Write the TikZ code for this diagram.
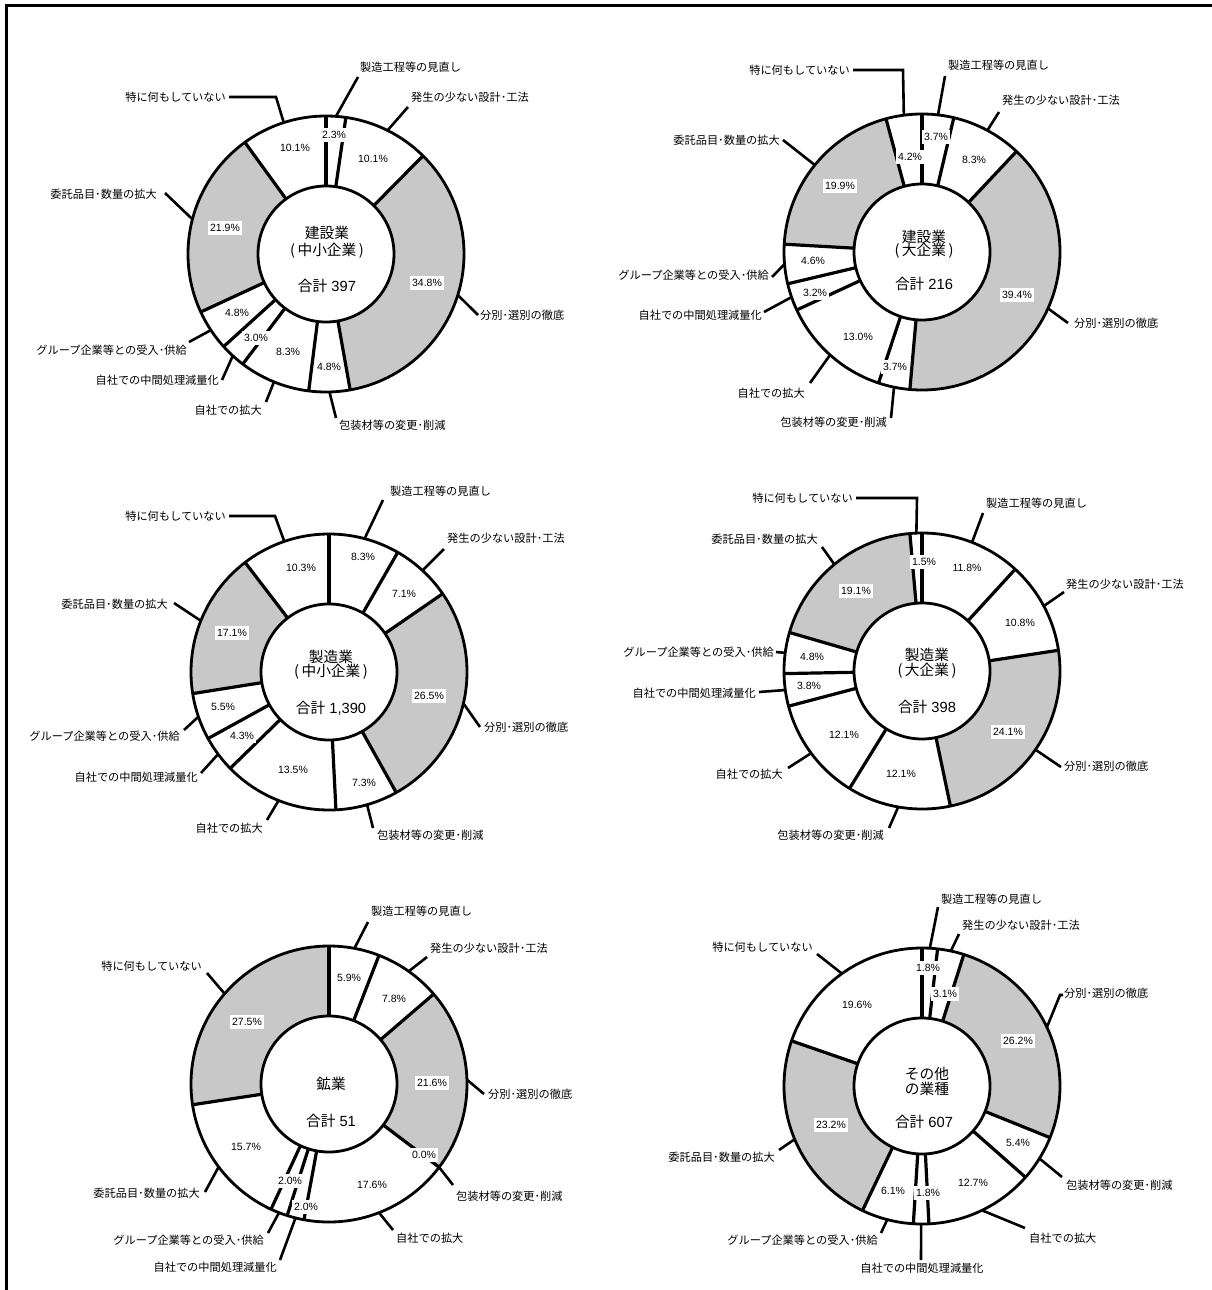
\documentclass[tikz,border=0pt]{standalone}
\usepackage{fontspec}
\setmainfont{Liberation Sans}
\newfontfamily\jp{Noto Sans CJK JP}
\usetikzlibrary{calc}
\definecolor{ringgray}{RGB}{200,200,200}
\tikzset{
  ringline/.style={line width=2.8pt},
  sepline/.style={line width=3.2pt},
  leader/.style={line width=2.6pt},
  pct/.style={fill=white, inner xsep=2pt, inner ysep=3pt, text height=7.6pt, text depth=0.4pt, font=\fontsize{10.5}{12}\selectfont},
  lab/.style={inner sep=0pt, font=\jp\fontsize{11.2}{13}\selectfont},
  ctitle/.style={inner sep=0pt, font=\jp\fontsize{14.7}{16}\selectfont},
  csum/.style={inner sep=0pt, font=\fontsize{14.7}{16}\selectfont},
}
\newcommand\graysec[3]{\fill[ringgray] ($(#1)+(#2:138)$) arc[start angle=#2,end angle=#3,radius=138] -- ($(#1)+(#3:68)$) arc[start angle=#3,end angle=#2,radius=68] -- cycle;}
\newcommand\ringbase[2]{%
  \draw[ringline] (#1) circle[radius=138];
  \foreach \a in {#2} \draw[sepline] ($(#1)+(\a:68)$) -- ($(#1)+(\a:138)$);
  \draw[ringline,fill=white] (#1) circle[radius=68];}
\newcommand\leadline[3]{\draw[leader] ($(#1)+(#2:138)$) -- #3;}
\begin{document}
\begin{tikzpicture}[x=1pt,y=-1pt]
\useasboundingbox (0,0) rectangle (1212,1290);
\draw[line width=2.8pt] (6.5,1292) -- (6.5,5.3) -- (1214,5.3);

% ---------- Chart 1 ----------
\coordinate (c1) at (326,254);
\graysec{c1}{-45.36}{79.92}
\graysec{c1}{155.16}{234}
\ringbase{c1}{-90,-81.72,-45.36,79.92,97.2,127.08,137.88,155.16,234}
\leadline{c1}{-85.86}{(358,77)}
\leadline{c1}{-63.54}{(408,107)}
\leadline{c1}{17.28}{(478,315)}
\leadline{c1}{88.56}{(336,418)}
\leadline{c1}{112.14}{(266,402)}
\leadline{c1}{132.48}{(222,380)}
\leadline{c1}{146.52}{(189,342)}
\leadline{c1}{194.58}{(165,193)}
\leadline{c1}{252.18}{(276,97) -- (229,97)}
\node[lab,anchor=west] (l1a) at (360,67) {製造工程等の見直し};
\node[lab,anchor=west] (l1b) at (411,97) {発生の少ない設計･工法};
\node[lab,anchor=west] (l1c) at (480,315) {分別･選別の徹底};
\node[lab,anchor=west] (l1d) at (339,425) {包装材等の変更･削減};
\node[lab,anchor=east] (l1e) at (262,410) {自社での拡大};
\node[lab,anchor=east] (l1f) at (219,380) {自社での中間処理減量化};
\node[lab,anchor=east] (l1g) at (187,350) {グループ企業等との受入･供給};
\node[lab,anchor=east] (l1h) at (157,194) {委託品目･数量の拡大};
\node[lab,anchor=east] (l1i) at (226,97) {特に何もしていない};
\node[pct] (p1a) at (334,135) {2.3\%};
\node[pct] (p1b) at (373,159) {10.1\%};
\node[pct] (p1c) at (427,283) {34.8\%};
\node[pct] (p1d) at (329,367) {4.8\%};
\node[pct] (p1e) at (288,352) {8.3\%};
\node[pct] (p1f) at (256,338) {3.0\%};
\node[pct] (p1g) at (237,313) {4.8\%};
\node[pct] (p1h) at (225,228) {21.9\%};
\node[pct] (p1i) at (295,148) {10.1\%};
\node[ctitle] (t1a) at (327,233) {建設業};
\node[ctitle] (t1b) at (327,251) {(\,中小企業\,)};
\node[csum] (s1) at (327,286) {{\jp 合計} 397};

% ---------- Chart 2 ----------
\coordinate (c2) at (922,252);
\graysec{c2}{-46.8}{95.04}
\graysec{c2}{183.24}{254.88}
\ringbase{c2}{-90,-76.68,-46.8,95.04,108.36,155.16,166.68,183.24,254.88}
\leadline{c2}{-83.34}{(945,76)}
\leadline{c2}{-61.74}{(999,112)}
\leadline{c2}{24.12}{(1068,323)}
\leadline{c2}{101.7}{(891,418)}
\leadline{c2}{131.76}{(810,383)}
\leadline{c2}{160.92}{(764,312)}
\leadline{c2}{174.96}{(772,277)}
\leadline{c2}{219.06}{(783,140)}
\leadline{c2}{262.44}{(903,70) -- (853,70)}
\node[lab,anchor=west] (l2a) at (948,65) {製造工程等の見直し};
\node[lab,anchor=west] (l2b) at (1002,100) {発生の少ない設計･工法};
\node[lab,anchor=west] (l2c) at (1074,323) {分別･選別の徹底};
\node[lab,anchor=east] (l2d) at (887,422) {包装材等の変更･削減};
\node[lab,anchor=east] (l2e) at (805,393) {自社での拡大};
\node[lab,anchor=east] (l2f) at (762,315) {自社での中間処理減量化};
\node[lab,anchor=east] (l2g) at (769,275) {グループ企業等との受入･供給};
\node[lab,anchor=east] (l2h) at (780,140) {委託品目･数量の拡大};
\node[lab,anchor=east] (l2i) at (850,70) {特に何もしていない};
\node[pct] (p2a) at (936,137) {3.7\%};
\node[pct] (p2b) at (974,160) {8.3\%};
\node[pct] (p2c) at (1017,295) {39.4\%};
\node[pct] (p2d) at (895,367) {3.7\%};
\node[pct] (p2e) at (858,337) {13.0\%};
\node[pct] (p2f) at (815,293) {3.2\%};
\node[pct] (p2g) at (813,261) {4.6\%};
\node[pct] (p2h) at (840,186) {19.9\%};
\node[pct] (p2i) at (910,157) {4.2\%};
\node[ctitle] (t2a) at (924,237) {建設業};
\node[ctitle] (t2b) at (924,251) {(\,大企業\,)};
\node[csum] (s2) at (924,284) {{\jp 合計} 216};

% ---------- Chart 3 ----------
\coordinate (c3) at (329,672);
\graysec{c3}{-34.56}{60.84}
\graysec{c3}{171}{232.56}
\ringbase{c3}{-90,-60.12,-34.56,60.84,87.12,135.72,151.2,171,232.56}
\leadline{c3}{-75.06}{(383,500)}
\leadline{c3}{-47.34}{(444,549)}
\leadline{c3}{13.14}{(480,727)}
\leadline{c3}{73.98}{(373,828)}
\leadline{c3}{111.42}{(267,820)}
\leadline{c3}{143.46}{(201,773)}
\leadline{c3}{161.1}{(184,730)}
\leadline{c3}{201.78}{(174,603)}
\leadline{c3}{251.1}{(275,516) -- (229,516)}
\node[lab,anchor=west] (l3a) at (390,491) {製造工程等の見直し};
\node[lab,anchor=west] (l3b) at (447,538) {発生の少ない設計･工法};
\node[lab,anchor=west] (l3c) at (484,727) {分別･選別の徹底};
\node[lab,anchor=west] (l3d) at (377,835) {包装材等の変更･削減};
\node[lab,anchor=east] (l3e) at (263,828) {自社での拡大};
\node[lab,anchor=east] (l3f) at (198,777) {自社での中間処理減量化};
\node[lab,anchor=east] (l3g) at (180,736) {グループ企業等との受入･供給};
\node[lab,anchor=east] (l3h) at (168,604) {委託品目･数量の拡大};
\node[lab,anchor=east] (l3i) at (226,516) {特に何もしていない};
\node[pct] (p3a) at (363,557) {8.3\%};
\node[pct] (p3b) at (404,594) {7.1\%};
\node[pct] (p3c) at (429,696) {26.5\%};
\node[pct] (p3d) at (364,783) {7.3\%};
\node[pct] (p3e) at (293,770) {13.5\%};
\node[pct] (p3f) at (242,736) {4.3\%};
\node[pct] (p3g) at (223,707) {5.5\%};
\node[pct] (p3h) at (232,633) {17.1\%};
\node[pct] (p3i) at (301,568) {10.3\%};
\node[ctitle] (t3a) at (331,657) {製造業};
\node[ctitle] (t3b) at (331,672) {(\,中小企業\,)};
\node[csum] (s3) at (331,708) {{\jp 合計} 1,390};

% ---------- Chart 4 ----------
\coordinate (c4) at (922,671);
\graysec{c4}{-8.64}{78.12}
\graysec{c4}{196.2}{264.96}
\ringbase{c4}{-90,-47.52,-8.64,78.12,121.68,165.24,178.92,196.2,264.96}
\leadline{c4}{-68.76}{(983,513)}
\leadline{c4}{-28.08}{(1064,592)}
\leadline{c4}{34.74}{(1061,767)}
\leadline{c4}{99.9}{(889,828)}
\leadline{c4}{143.46}{(788,768)}
\leadline{c4}{172.08}{(759,692)}
\leadline{c4}{187.56}{(776,652)}
\leadline{c4}{230.58}{(822,547)}
\leadline{c4}{267.66}{(917,498) -- (856,498)}
\node[lab,anchor=west] (l4a) at (986,503) {製造工程等の見直し};
\node[lab,anchor=west] (l4b) at (1066,584) {発生の少ない設計･工法};
\node[lab,anchor=west] (l4c) at (1064,766) {分別･選別の徹底};
\node[lab,anchor=east] (l4d) at (884,835) {包装材等の変更･削減};
\node[lab,anchor=east] (l4e) at (783,774) {自社での拡大};
\node[lab,anchor=east] (l4f) at (756,693) {自社での中間処理減量化};
\node[lab,anchor=east] (l4g) at (774,652) {グループ企業等との受入･供給};
\node[lab,anchor=east] (l4h) at (818,539) {委託品目･数量の拡大};
\node[lab,anchor=east] (l4i) at (853,498) {特に何もしていない};
\node[pct] (p4a) at (924,562) {1.5\%};
\node[pct] (p4b) at (967,568) {11.8\%};
\node[pct] (p4c) at (1020,623) {10.8\%};
\node[pct] (p4d) at (1008,732) {24.1\%};
\node[pct] (p4e) at (901,774) {12.1\%};
\node[pct] (p4f) at (844,735) {12.1\%};
\node[pct] (p4g) at (809,686) {3.8\%};
\node[pct] (p4h) at (812,657) {4.8\%};
\node[pct] (p4i) at (856,591) {19.1\%};
\node[ctitle] (t4a) at (927,655) {製造業};
\node[ctitle] (t4b) at (927,671) {(\,大企業\,)};
\node[csum] (s4) at (927,707) {{\jp 合計} 398};

% ---------- Chart 5 ----------
\coordinate (c5) at (329,1084);
\graysec{c5}{-40.68}{37.08}
\graysec{c5}{171.36}{270}
\ringbase{c5}{-90,-68.76,-40.68,37.08,100.44,107.64,114.84,171.36}
\leadline{c5}{-79.38}{(368,922)}
\leadline{c5}{-54.72}{(427,957)}
\leadline{c5}{-1.8}{(484,1094)}
\leadline{c5}{37.08}{(453,1185)}
\leadline{c5}{68.76}{(393,1230)}
\leadline{c5}{104.04}{(280,1260)}
\leadline{c5}{111.24}{(268,1233)}
\leadline{c5}{143.1}{(205,1192)}
\leadline{c5}{220.86}{(207,973)}
\node[lab,anchor=west] (l5a) at (371,911) {製造工程等の見直し};
\node[lab,anchor=west] (l5b) at (430,948) {発生の少ない設計･工法};
\node[lab,anchor=west] (l5c) at (488,1094) {分別･選別の徹底};
\node[lab,anchor=west] (l5d) at (456,1196) {包装材等の変更･削減};
\node[lab,anchor=west] (l5e) at (396,1238) {自社での拡大};
\node[lab,anchor=east] (l5f) at (277,1267) {自社での中間処理減量化};
\node[lab,anchor=east] (l5g) at (264,1240) {グループ企業等との受入･供給};
\node[lab,anchor=east] (l5h) at (200,1193) {委託品目･数量の拡大};
\node[lab,anchor=east] (l5i) at (202,966) {特に何もしていない};
\node[pct] (p5a) at (349,978) {5.9\%};
\node[pct] (p5b) at (394,999) {7.8\%};
\node[pct] (p5c) at (432,1083) {21.6\%};
\node[pct] (p5d) at (424,1155) {0.0\%};
\node[pct] (p5e) at (372,1185) {17.6\%};
\node[pct] (p5f) at (306,1207) {2.0\%};
\node[pct] (p5g) at (290,1181) {2.0\%};
\node[pct] (p5h) at (246,1147) {15.7\%};
\node[pct] (p5i) at (247,1022) {27.5\%};
\node[ctitle] (t5a) at (331,1084) {鉱業};
\node[csum] (s5) at (331,1121) {{\jp 合計} 51};

% ---------- Chart 6 ----------
\coordinate (c6) at (922,1086);
\graysec{c6}{-72.36}{21.96}
\graysec{c6}{115.56}{199.08}
\ringbase{c6}{-90,-83.52,-72.36,21.96,41.4,87.12,93.6,115.56,199.08}
\leadline{c6}{-86.76}{(938,907)}
\leadline{c6}{-77.94}{(959,934)}
\leadline{c6}{-25.2}{(1060,995) -- (1063,995)}
\leadline{c6}{31.68}{(1062,1177)}
\leadline{c6}{64.26}{(1025,1228)}
\leadline{c6}{90.36}{(921,1260)}
\leadline{c6}{104.58}{(881,1233)}
\leadline{c6}{157.32}{(779,1150)}
\leadline{c6}{234.54}{(817,954)}
\node[lab,anchor=west] (l6a) at (941,899) {製造工程等の見直し};
\node[lab,anchor=west] (l6b) at (962,925) {発生の少ない設計･工法};
\node[lab,anchor=west] (l6c) at (1064,993) {分別･選別の徹底};
\node[lab,anchor=west] (l6d) at (1066,1185) {包装材等の変更･削減};
\node[lab,anchor=west] (l6e) at (1029,1238) {自社での拡大};
\node[lab] (l6f) at (922,1268) {自社での中間処理減量化};
\node[lab,anchor=east] (l6g) at (878,1240) {グループ企業等との受入･供給};
\node[lab,anchor=east] (l6h) at (775,1157) {委託品目･数量の拡大};
\node[lab,anchor=east] (l6i) at (813,947) {特に何もしていない};
\node[pct] (p6a) at (928,968) {1.8\%};
\node[pct] (p6b) at (945,994) {3.1\%};
\node[pct] (p6c) at (1018,1041) {26.2\%};
\node[pct] (p6d) at (1018,1143) {5.4\%};
\node[pct] (p6e) at (973,1183) {12.7\%};
\node[pct] (p6f) at (928,1193) {1.8\%};
\node[pct] (p6g) at (893,1191) {6.1\%};
\node[pct] (p6h) at (831,1125) {23.2\%};
\node[pct] (p6i) at (857,1005) {19.6\%};
\node[ctitle] (t6a) at (927,1074) {その他};
\node[ctitle] (t6b) at (927,1089) {の業種};
\node[csum] (s6) at (924,1122) {{\jp 合計} 607};
\end{tikzpicture}
\end{document}
